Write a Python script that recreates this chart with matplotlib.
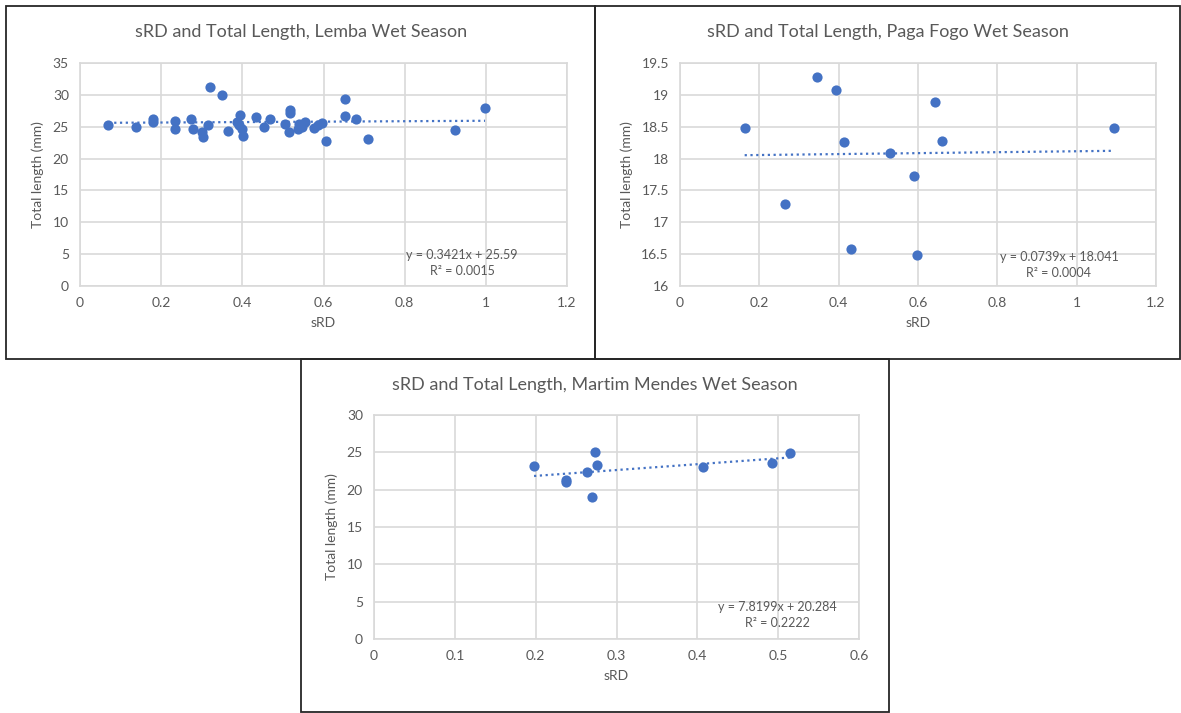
import numpy as np
import matplotlib
matplotlib.use("Agg")
import matplotlib.pyplot as plt
from matplotlib.patches import Rectangle

plt.rcParams['font.family'] = ['Lato', 'DejaVu Sans']

# sRD vs total length, one set per site
lemba_srd = [0.07, 0.138, 0.181, 0.181, 0.233, 0.235, 0.274, 0.278, 0.301, 0.302,
             0.315, 0.32, 0.349, 0.364, 0.386, 0.393, 0.395, 0.40, 0.402, 0.434,
             0.453, 0.469, 0.505, 0.516, 0.517, 0.517, 0.537, 0.540, 0.548, 0.555,
             0.577, 0.586, 0.596, 0.607, 0.652, 0.654, 0.68, 0.71, 0.925, 0.998]
lemba_len = [25.2, 25.0, 26.2, 25.8, 25.9, 24.6, 26.2, 24.7, 24.2, 23.4,
             25.2, 31.3, 30.0, 24.4, 25.7, 25.3, 26.8, 24.7, 23.6, 26.5,
             25.0, 26.2, 25.4, 24.2, 27.7, 27.2, 24.6, 25.4, 25.0, 25.7,
             24.8, 25.2, 25.6, 22.8, 29.3, 26.7, 26.2, 23.0, 24.5, 27.9]

paga_srd = [0.163, 0.265, 0.345, 0.394, 0.413, 0.432, 0.53, 0.59, 0.597, 0.644, 0.661, 1.094]
paga_len = [18.48, 17.28, 19.28, 19.07, 18.26, 16.58, 18.09, 17.72, 16.48, 18.89, 18.27, 18.48]

mm_srd = [0.198, 0.238, 0.238, 0.264, 0.27, 0.274, 0.276, 0.407, 0.492, 0.515]
mm_len = [23.2, 21.3, 21.0, 22.4, 19.0, 25.0, 23.3, 23.0, 23.6, 24.9]

# Excel-style linear trendlines as reported
trends = {
    'lemba': (0.3421, 25.59, 0.0015),
    'paga': (0.0739, 18.041, 0.0004),
    'mm': (7.8199, 20.284, 0.2222),
}

W, H = 1181, 713
BLUE = '#4472C4'
GREY = '#595959'
GRID = '#d9d9d9'

fig = plt.figure(figsize=(W / 100, H / 100), dpi=100)
fig.patch.set_facecolor('white')


def px_axes(x0, y0, x1, y1):
    # pixel box (left, top, right, bottom) -> figure axes
    return fig.add_axes([x0 / W, 1 - y1 / H, (x1 - x0) / W, (y1 - y0) / H])


def frame(x0, y0, x1, y1):
    fig.patches.append(Rectangle((x0 / W, 1 - y1 / H), (x1 - x0) / W, (y1 - y0) / H,
                                 transform=fig.transFigure, fill=False,
                                 edgecolor='#262626', linewidth=1.3))


def panel(box, srd, length, trend, title, xlim, xstep, ylim, ystep, title_xy, eq_xy):
    ax = px_axes(*box)
    ax.scatter(srd, length, s=54, color=BLUE, zorder=3, linewidths=0)
    m, b, r2 = trend
    xs = np.array([min(srd), max(srd)])
    ax.plot(xs, m * xs + b, linestyle=(0, (1, 1.6)), color=BLUE, linewidth=1.6, zorder=2)
    ax.set_xlim(*xlim)
    ax.set_ylim(*ylim)
    ax.set_xticks(np.arange(xlim[0], xlim[1] + xstep / 2, xstep))
    ax.set_yticks(np.arange(ylim[0], ylim[1] + ystep / 2, ystep))
    ax.xaxis.set_major_formatter(matplotlib.ticker.FuncFormatter(lambda v, p: f'{v:g}'))
    ax.yaxis.set_major_formatter(matplotlib.ticker.FuncFormatter(lambda v, p: f'{v:g}'))
    ax.grid(True, color=GRID, linewidth=1.2)
    ax.set_axisbelow(True)
    for sp in ax.spines.values():
        sp.set_color(GRID)
        sp.set_linewidth(1.2)
    ax.tick_params(length=0, labelsize=10, labelcolor=GREY, pad=8)
    ax.set_xlabel('sRD', fontsize=10, color=GREY, labelpad=6)
    ax.set_ylabel('Total length (mm)', fontsize=10, color=GREY, labelpad=6)
    tx, ty = title_xy
    fig.text(tx / W, 1 - ty / H, title, fontsize=13, color=GREY, ha='center', va='center')
    ex, ey = eq_xy
    fig.text(ex / W, 1 - ey / H, f'y = {m}x + {b}', fontsize=9, color=GREY, ha='center', va='center')
    fig.text(ex / W, 1 - (ey + 16) / H, f'R² = {r2:.4f}', fontsize=9, color=GREY, ha='center', va='center')
    return ax


frame(6, 6, 595, 359)
frame(595, 6, 1180, 359)
frame(301, 359, 889, 712)

panel((80, 63, 567, 286), lemba_srd, lemba_len, trends['lemba'],
      'sRD and Total Length, Lemba Wet Season',
      (0, 1.2), 0.2, (0, 35), 5, (301, 32), (462, 255))
panel((680, 63, 1156, 286), paga_srd, paga_len, trends['paga'],
      'sRD and Total Length, Paga Fogo Wet Season',
      (0, 1.2), 0.2, (16, 19.5), 0.5, (888, 32), (1059, 257))
panel((374, 415, 859, 639), mm_srd, mm_len, trends['mm'],
      'sRD and Total Length, Martim Mendes Wet Season',
      (0, 0.6), 0.1, (0, 30), 5, (595, 385), (777, 607))

fig.savefig('out.png', dpi=100)
